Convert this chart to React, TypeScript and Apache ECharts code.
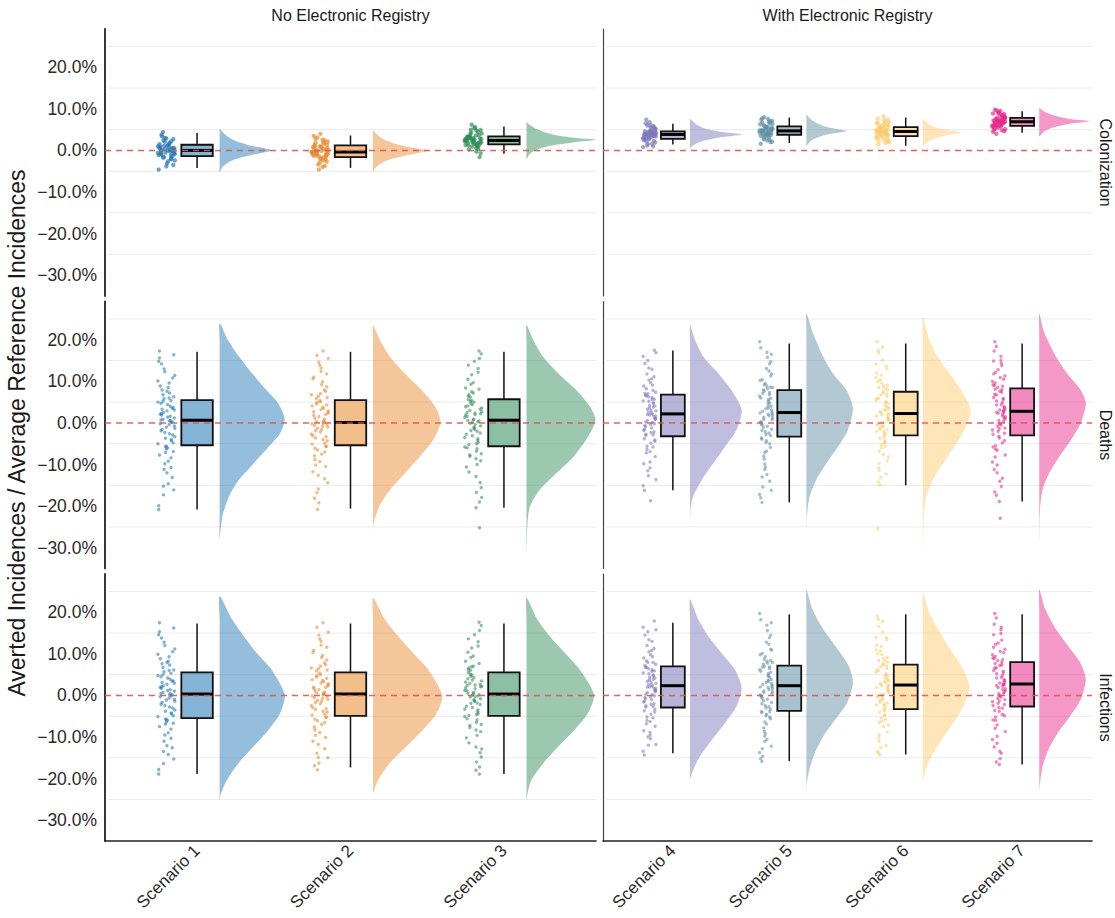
import React, { useEffect, useRef } from "react";
import * as echarts from "echarts";

// ---------- labels ----------
const SCENARIOS = ["Scenario 1", "Scenario 2", "Scenario 3", "Scenario 4", "Scenario 5", "Scenario 6", "Scenario 7"];
const COLUMN_TITLES = ["No Electronic Registry", "With Electronic Registry"];
const OUTCOMES = ["Colonization", "Deaths", "Infections"];
const Y_TITLE = "Averted Incidences / Average Reference Incidences";
const Y_TICKS = [-30, -20, -10, 0, 10, 20];
const MINOR_GRID = [-25, -15, -5, 5, 15, 25];
const SCENARIO_COLORS = ["#1F77B4", "#E8882A", "#2E8B57", "#7B77B9", "#5E8FA5", "#FCCB6A", "#E7298A"];

// ---------- raw points (percent) ----------
const colonizationPoints = [
  [0.3, -1.2, 2.1, -0.4, 1.0, -2.6, 0.6, 3.4, -0.9, 1.5, -3.8, 0.1, -1.6, 2.7, -0.2, 0.8, -4.6, 1.2, -2.1, 4.4, -0.7, 0.4, -1.0, 1.8, -3.1, 2.4, -0.1, 0.9, -1.9, 3.0,
    0.5, -0.6, 1.3, -1.4, 0.2, -2.4, 0.7, 2.9, -0.3, 1.1, -3.5, -0.8, 1.6, -1.1, 0.0, 2.2, -1.7, 0.4, -0.5, 3.8],
  [-0.1, -1.5, 1.8, -0.7, 0.8, -2.9, 0.3, 3.1, -1.1, 1.3, -4.0, -0.3, -1.9, 2.4, -0.5, 0.6, -4.6, 1.0, -2.4, 4.0, -0.9, 0.1, -1.3, 1.6, -3.4, 2.1, -0.4, 0.7, -2.1, 2.8,
    0.1, -0.9, 1.0, -1.7, -0.2, -2.7, 0.4, 2.6, -0.6, 0.9, -3.7, -1.2, 1.4, -1.4, -0.3, 1.9, -2.0, 0.0, -0.8, 3.5],
  [2.6, 1.5, 4.3, 2.1, 3.1, 0.6, 2.8, 5.4, 1.8, 3.4, -0.7, 2.4, 1.2, 4.8, 2.2, 2.9, -1.6, 3.3, 0.9, 6.2, 1.9, 2.5, 1.6, 3.7, 0.2, 4.1, 2.3, 3.0, 1.1, 5.0,
    2.9, 1.8, 3.6, 1.3, 2.6, 0.4, 3.1, 4.9, 2.0, 3.3, -0.3, 1.6, 3.9, 1.4, 2.4, 4.5, 0.9, 2.7, 2.2, 5.6],
  [4.0, 3.0, 5.5, 3.6, 4.4, 1.9, 4.1, 6.5, 3.3, 4.7, 1.2, 3.9, 2.7, 5.9, 3.7, 4.3, 0.8, 4.6, 2.3, 7.4, 3.4, 3.9, 3.1, 5.1, 1.6, 5.3, 3.8, 4.5, 2.5, 6.1,
    4.2, 3.2, 4.9, 2.7, 4.0, 1.6, 4.4, 6.0, 3.5, 4.6, 1.0, 3.0, 5.2, 2.9, 3.8, 5.6, 2.2, 4.1, 3.6, 6.8],
  [4.9, 3.9, 6.7, 4.4, 5.4, 2.7, 5.1, 7.4, 4.1, 5.8, 2.1, 4.8, 3.6, 7.0, 4.6, 5.2, 1.6, 5.6, 3.2, 8.0, 4.2, 4.8, 3.9, 6.3, 2.4, 6.5, 4.7, 5.5, 3.4, 7.7,
    5.0, 4.0, 6.0, 3.7, 4.8, 2.6, 5.3, 7.1, 4.3, 5.7, 2.0, 3.8, 6.4, 3.5, 4.6, 6.9, 3.0, 5.1, 4.5, 7.6],
  [4.7, 3.6, 6.5, 4.2, 5.3, 2.4, 4.9, 7.3, 3.9, 5.7, 1.9, 4.6, 3.3, 6.9, 4.4, 5.0, 1.4, 5.5, 2.9, 8.2, 4.0, 4.6, 3.7, 6.1, 2.2, 6.3, 4.5, 5.4, 3.1, 7.6,
    4.8, 3.8, 5.8, 3.4, 4.5, 2.3, 5.1, 6.8, 4.1, 5.5, 1.8, 3.5, 6.2, 3.2, 4.3, 6.6, 2.7, 4.9, 4.2, 7.4],
  [7.0, 6.0, 8.6, 6.6, 7.5, 5.1, 7.2, 9.2, 6.3, 7.9, 4.6, 6.9, 5.8, 8.9, 6.8, 7.4, 4.0, 7.8, 5.5, 9.8, 6.4, 7.0, 6.1, 8.2, 5.0, 8.4, 6.9, 7.7, 5.7, 9.5,
    7.2, 6.2, 8.0, 5.9, 7.0, 4.9, 7.4, 8.8, 6.5, 7.7, 4.5, 6.0, 8.4, 5.8, 6.8, 9.0, 5.3, 7.3, 6.7, 9.6],
];
const deathsPoints = [
  [2.1, -8.4, 12.3, -0.7, 5.0, -14.6, 0.3, 7.9, -3.3, 17.3, -5.6, 1.6, -11.2, 3.7, -1.9, 9.6, -20.8, 4.4, -4.0, 0.9, 6.3, -7.1, 14.2, -2.6, 2.9, -17.3, 10.8, -0.2, 5.4, -9.8, 1.2, -5.0, 8.5, -13.1, 3.3, -1.3, 15.6, -6.3, 0.6, 5.8,
    -4.8, 0.7, 6.0, -19.9, 1.4, -4.3, 6.8, -16.1, -3.7, 1.9, 7.2, -12.0, 2.5, -2.9, 8.9, -10.7, -2.3, 3.1, 10.1, -9.2, 3.5, -1.6, 11.4, -7.7, -1.0, 4.0, 13.0, -6.9, 4.7, -0.4, 14.8, -6.0, 0.1, 5.2, 16.4, -5.7, 2.3, 0.5, 7.6, -15.2],
  [-1.6, 7.6, -10.1, 2.6, -3.0, 13.9, 0.4, -6.5, 4.3, -18.1, 9.9, -0.2, 3.2, -13.4, 5.9, -4.3, 1.5, -8.8, 17.3, -2.2, 4.9, -5.7, 11.0, 0.9, -15.9, -1.0, 6.8, -7.5, 2.0, -3.6, 15.5, -11.7, 5.4, 0.1, -20.8, 8.7, -0.6, 3.8, -5.1, 12.4,
    -4.9, 0.3, 6.1, -19.2, 1.1, -4.0, 7.0, -16.8, -3.3, 1.8, 7.9, -12.6, 2.3, -2.7, 9.2, -10.5, -1.9, 2.9, 10.6, -9.3, 3.5, -1.3, 11.8, -7.9, -0.8, 4.1, 13.2, -7.0, 4.6, -0.4, 14.6, -6.1, -0.1, 5.1, 16.2, -5.6, 2.7, 0.2, 6.4, -14.4],
  [0.8, -6.2, 9.3, -2.4, 4.1, -12.9, 1.9, 14.8, -4.7, 3.0, -9.1, 0.2, 6.4, -16.7, -1.1, 5.2, -25.2, 2.5, -3.8, 11.6, -7.4, 1.3, -0.4, 17.3, -5.2, 3.6, -10.6, 7.2, -2.0, 4.7, -14.3, 0.6, -20.4, 8.4, -1.5, 13.1, -8.0, 2.2, -3.1, 5.6,
    -5.0, 0.9, 6.2, -19.0, 1.6, -4.2, 7.5, -15.6, -3.5, 2.0, 8.1, -11.8, 2.7, -2.7, 9.7, -10.0, -1.8, 3.3, 10.5, -8.6, 3.9, -1.2, 12.2, -7.7, -0.7, 4.4, 13.9, -6.8, 5.0, -0.1, 15.5, -6.0, 0.3, 5.4, 16.6, -5.8, 2.4, 0.5, 6.8, -17.9],
  [2.4, -1.8, 9.7, 4.9, -5.6, 0.8, 13.2, -3.0, 6.1, -9.4, 3.3, 17.5, -0.6, 7.8, -12.7, 1.6, 5.3, -2.3, 11.1, -7.2, 2.9, -16.2, 4.2, 0.1, 15.0, -4.4, 6.6, -1.2, 8.9, -18.7, 3.8, -6.4, 1.1, 10.3, -2.7, 5.7, -10.8, 2.0, -0.2, 7.1,
    -2.9, 2.5, 7.4, -15.1, 3.0, -2.2, 8.2, -13.6, -1.6, 3.6, 9.1, -11.5, 4.1, -0.9, 10.6, -9.8, -0.4, 4.6, 11.8, -8.1, 5.2, 0.2, 12.9, -6.9, 0.6, 5.7, 14.3, -5.8, 6.3, 1.0, 16.0, -4.9, 1.5, 6.6, 16.9, -3.8, 1.9, 2.1, 7.0, -4.1],
  [3.1, -2.1, 10.4, 5.6, -6.8, 0.9, 14.7, -3.6, 7.3, -11.2, 2.6, 19.5, -0.8, 8.6, -15.4, 1.8, 6.0, -2.8, 12.5, -8.7, 4.0, -19.1, 4.7, 0.2, 17.0, -5.0, 7.9, -1.5, 9.5, -13.0, 3.6, -4.3, 1.3, 11.3, -0.3, 6.8, -9.9, 2.2, -17.2, 8.2,
    -3.0, 2.8, 8.5, -18.0, 3.4, -2.4, 9.2, -16.2, -1.8, 4.1, 10.2, -12.4, 4.8, -1.1, 11.8, -10.6, -0.5, 5.3, 13.1, -8.0, 5.9, 0.3, 14.2, -7.1, 0.8, 6.4, 15.8, -5.9, 7.1, 1.2, 18.1, -4.7, 1.7, 7.6, 16.5, -3.9, 2.1, 2.4, 8.9, -14.0],
  [2.7, -1.6, 9.9, 5.1, -6.0, 0.6, 14.1, -3.3, 7.0, -9.7, 3.4, 19.5, -0.7, 8.3, -13.2, 1.7, 5.8, -2.4, 12.0, -7.6, 3.9, -15.0, 4.6, 0.0, 16.8, -4.6, 7.5, -1.1, 9.1, -25.4, 3.0, -5.3, 1.2, 10.9, -2.0, 6.4, -11.4, 2.2, -0.3, 18.2,
    -2.8, 2.6, 8.0, -14.2, 3.2, -2.1, 8.8, -12.3, -1.5, 3.8, 9.6, -10.8, 4.4, -0.9, 10.4, -9.1, -0.4, 5.0, 11.5, -8.2, 5.5, 0.2, 13.0, -6.8, 0.7, 6.0, 15.1, -5.7, 6.7, 1.1, 17.4, -4.9, 1.6, 7.2, 13.7, -3.7, 1.9, 2.0, 8.5, -4.2],
  [3.3, -1.7, 10.9, 5.9, -6.3, 1.0, 14.9, -3.2, 8.0, -10.1, 3.9, 19.5, -0.5, 9.2, -14.0, 2.1, 6.7, -2.5, 12.8, -8.2, 4.4, -18.9, 5.3, 0.4, 17.3, -4.8, 8.6, -1.2, 10.0, -22.9, 2.8, -5.5, 1.5, 11.8, -0.1, 7.4, -12.0, 2.5, -16.6, 16.0,
    -2.7, 3.1, 8.8, -17.4, 3.7, -2.0, 9.6, -15.3, -1.4, 4.3, 10.5, -11.2, 4.9, -0.8, 11.3, -9.4, -0.2, 5.6, 12.2, -7.7, 6.1, 0.6, 13.8, -6.6, 1.2, 6.9, 15.1, -5.8, 7.6, 1.7, 18.4, -4.3, 2.3, 8.1, 14.4, -3.6, 2.6, 3.0, 9.0, -13.3],
];
const infectionsPoints = [
  [1.9, -8.1, 12.0, -0.9, 4.8, -14.2, 0.2, 7.6, -3.5, 17.5, -5.8, 1.4, -11.0, 3.5, -2.1, 9.3, -18.9, 4.2, -4.2, 0.7, 6.1, -6.9, 13.8, -2.8, 2.7, -16.4, 10.5, -0.3, 5.3, -9.5, 1.0, -5.1, 8.2, -12.6, 3.1, -1.4, 15.3, -6.4, 0.5, 5.7,
    -4.9, 0.5, 6.0, -17.8, 1.2, -4.4, 6.7, -15.3, -3.8, 1.7, 7.3, -12.1, 2.3, -3.0, 8.8, -10.3, -2.4, 2.9, 9.9, -9.0, 3.4, -1.7, 11.2, -7.5, -1.1, 3.9, 12.8, -6.7, 4.5, -0.6, 14.6, -6.0, -0.1, 5.0, 16.2, -5.7, 2.1, 0.1, 7.9, -13.5],
  [-1.4, 7.4, -9.6, 2.5, -2.9, 13.6, 0.5, -6.1, 4.1, -16.9, 9.6, -0.1, 3.0, -12.8, 5.9, -4.0, 1.4, -8.3, 17.5, -2.0, 4.8, -5.3, 10.8, 0.8, -14.9, -0.9, 6.6, -7.0, 1.9, -3.4, 15.2, -11.0, 5.4, 0.3, -17.9, 8.5, -0.5, 3.6, -4.7, 12.1,
    -4.5, 0.6, 6.1, -16.3, 1.2, -3.8, 7.0, -13.9, -3.2, 1.7, 7.8, -11.8, 2.3, -2.5, 9.1, -10.1, -1.7, 2.8, 10.3, -8.9, 3.3, -1.2, 11.6, -7.6, -0.7, 3.8, 13.0, -6.5, 4.4, -0.2, 14.5, -5.7, 0.1, 5.0, 16.4, -5.2, 2.0, 0.4, 6.4, -15.0],
  [0.7, -5.9, 9.1, -2.2, 4.0, -12.4, 1.8, 14.6, -4.4, 2.9, -8.7, 0.1, 6.3, -16.0, -1.0, 5.1, -18.9, 2.4, -3.5, 11.4, -7.0, 1.2, -0.3, 17.6, -4.8, 3.5, -10.2, 7.0, -1.8, 4.6, -13.8, 0.5, -18.0, 8.2, -1.3, 12.9, -7.7, 2.1, -2.9, 5.5,
    -4.6, 0.5, 6.0, -17.2, 1.1, -3.9, 6.9, -14.8, -3.3, 1.6, 7.7, -11.4, 2.2, -2.6, 9.5, -9.6, -1.9, 2.7, 10.4, -8.3, 3.2, -1.4, 11.9, -7.2, -0.8, 3.7, 13.6, -6.5, 4.3, -0.4, 15.6, -5.6, -0.1, 4.9, 16.8, -5.1, 2.5, 0.2, 6.6, -12.9],
  [2.5, -1.6, 9.8, 4.9, -5.2, 0.9, 13.4, -2.8, 6.2, -8.9, 3.4, 17.9, -0.5, 7.9, -12.0, 1.7, 5.4, -2.1, 11.3, -6.8, 2.9, -14.3, 4.3, 0.2, 15.3, -4.0, 6.8, -1.0, 9.0, -10.4, 3.9, -6.0, 1.2, 10.5, -2.5, 5.8, -9.6, 2.0, -0.1, 7.2,
    -2.6, 2.6, 7.5, -13.4, 3.1, -2.0, 8.3, -11.8, -1.4, 3.7, 9.3, -10.0, 4.2, -0.8, 10.8, -8.5, -0.3, 4.7, 12.0, -7.4, 5.2, 0.3, 13.0, -6.3, 0.7, 5.9, 14.5, -5.4, 6.4, 1.2, 16.4, -4.5, 1.6, 6.8, 15.8, -3.7, 2.0, 2.2, 8.0, -3.3],
  [2.9, -2.4, 10.1, 5.3, -6.9, 0.7, 14.5, -3.9, 6.9, -11.0, 2.4, 19.7, -0.9, 8.4, -14.6, 1.6, 5.8, -3.0, 12.3, -8.6, 3.8, -15.9, 4.6, 0.1, 16.9, -5.2, 7.5, -1.7, 9.3, -12.8, 3.4, -4.5, 1.1, 11.1, -0.4, 6.5, -9.8, 2.1, -13.7, 7.8,
    -3.3, 2.6, 7.9, -15.2, 3.1, -2.7, 8.7, -12.2, -2.0, 3.6, 9.8, -10.6, 4.3, -1.3, 10.9, -9.2, -0.7, 4.9, 12.8, -7.8, 5.6, -0.1, 13.9, -6.4, 0.4, 6.2, 15.6, -5.6, 6.8, 0.9, 18.2, -4.9, 1.4, 7.0, 17.5, -4.1, 1.9, 2.0, 8.2, -3.9],
  [2.8, -1.8, 10.0, 5.2, -6.2, 0.8, 14.0, -3.4, 7.1, -9.5, 3.5, 19.1, -0.6, 8.4, -12.6, 1.8, 5.9, -2.5, 12.1, -7.5, 4.0, -14.3, 4.7, 0.1, 16.6, -4.7, 7.6, -1.2, 9.2, -13.5, 3.1, -5.4, 1.3, 11.0, -2.1, 6.5, -11.0, 2.4, -0.2, 17.8,
    -3.0, 2.7, 8.0, -13.9, 3.3, -2.3, 8.9, -12.1, -1.6, 3.9, 9.8, -10.2, 4.5, -1.0, 10.7, -8.8, -0.4, 5.0, 11.8, -7.1, 5.6, 0.3, 13.4, -6.5, 0.8, 6.2, 15.2, -5.8, 6.9, 1.4, 18.3, -4.8, 1.9, 7.3, 13.9, -4.0, 2.2, 2.3, 8.4, -3.7],
  [3.2, -1.5, 10.6, 5.8, -6.0, 1.1, 14.6, -2.9, 7.9, -9.8, 3.8, 19.7, -0.4, 9.0, -13.4, 2.2, 6.6, -2.2, 12.6, -7.9, 4.3, -16.6, 5.2, 0.5, 17.1, -4.6, 8.4, -1.0, 9.8, -15.2, 2.8, -5.2, 1.6, 11.6, 0.0, 7.3, -11.5, 2.6, -3.6, 15.8,
    -2.4, 3.0, 8.6, -16.0, 3.6, -1.9, 9.4, -13.9, -1.3, 4.2, 10.3, -12.4, 4.8, -0.7, 11.1, -10.6, -0.1, 5.4, 12.3, -8.7, 6.0, 0.4, 13.3, -7.1, 0.9, 6.6, 14.9, -5.9, 7.2, 1.4, 18.6, -4.9, 1.9, 7.7, 16.4, -3.8, 2.4, 2.6, 8.9, -3.1],
];

// ---------- box stats [lower whisker, q1, median, q3, upper whisker] ----------
const colonizationBox = [
  [-4.2, -1.37, 0, 1.37, 4.2],
  [-4.2, -1.6, -0.4, 1.2, 3.6],
  [-0.8, 1.44, 2.4, 3.37, 5.77],
  [1.4, 2.8, 3.85, 4.57, 6.4],
  [1.8, 3.77, 4.7, 5.77, 7.9],
  [1.1, 3.45, 4.56, 5.6, 7.9],
  [4.25, 5.93, 6.9, 7.85, 9.45],
];
const deathsBox = [
  [-20.8, -5.37, 0.65, 5.47, 17.1],
  [-20.6, -5.37, 0.1, 5.47, 17.1],
  [-20.4, -5.6, 0.65, 5.7, 17.1],
  [-16.2, -3.2, 2.17, 6.8, 17.4],
  [-19.1, -3.3, 2.5, 7.9, 19.1],
  [-15.0, -3.0, 2.26, 7.5, 19.1],
  [-18.9, -3.0, 2.8, 8.3, 19.1],
];
const infectionsBox = [
  [-18.9, -5.46, 0.33, 5.55, 17.3],
  [-17.3, -4.9, 0.33, 5.55, 17.3],
  [-18.9, -4.9, 0.33, 5.55, 17.3],
  [-13.9, -2.9, 2.34, 7.0, 17.5],
  [-15.8, -3.7, 2.34, 7.17, 19.5],
  [-14.2, -3.3, 2.5, 7.4, 19.5],
  [-16.6, -2.66, 2.75, 8.0, 19.5],
];

// ---------- half-violin densities: [value, relative density] ----------
const colonizationDensity = [
  [[5.2, 0], [4.4, 0.06], [3.6, 0.13], [2.8, 0.22], [2.0, 0.36], [1.2, 0.58], [0.5, 0.86], [0, 1], [-0.6, 0.8], [-1.4, 0.5], [-2.2, 0.28], [-3.0, 0.15], [-3.9, 0.06], [-5.2, 0]],
  [[4.8, 0], [4.0, 0.06], [3.2, 0.13], [2.4, 0.24], [1.6, 0.4], [0.9, 0.62], [0.3, 0.88], [0, 1], [-0.6, 0.82], [-1.4, 0.52], [-2.2, 0.3], [-3.0, 0.16], [-3.9, 0.06], [-5.2, 0]],
  [[6.8, 0], [6.0, 0.06], [5.2, 0.14], [4.4, 0.26], [3.6, 0.45], [3.0, 0.72], [2.6, 1], [2.1, 0.75], [1.4, 0.45], [0.7, 0.24], [0, 0.12], [-0.8, 0.05], [-2.0, 0]],
  [[7.6, 0], [6.8, 0.07], [6.0, 0.16], [5.2, 0.3], [4.5, 0.58], [3.85, 1], [3.2, 0.6], [2.5, 0.32], [1.8, 0.15], [1.1, 0.05], [0.55, 0]],
  [[8.65, 0], [7.8, 0.08], [7.0, 0.18], [6.2, 0.34], [5.4, 0.62], [4.7, 1], [4.0, 0.62], [3.2, 0.3], [2.4, 0.12], [1.2, 0]],
  [[7.6, 0], [6.9, 0.08], [6.2, 0.18], [5.5, 0.35], [4.9, 0.62], [4.3, 1], [3.6, 0.6], [2.8, 0.3], [2.0, 0.12], [1.0, 0]],
  [[10.2, 0], [9.5, 0.08], [8.8, 0.2], [8.1, 0.38], [7.5, 0.65], [7.0, 1], [6.4, 0.62], [5.6, 0.3], [4.8, 0.12], [3.4, 0]],
];
const deathsDensity = [
  [[24, 0], [19.9, 0.13], [15.9, 0.3], [11.9, 0.5], [7.9, 0.72], [4.7, 0.9], [1.0, 1], [-2.5, 0.93], [-5.8, 0.75], [-9.8, 0.52], [-13.8, 0.29], [-17.8, 0.14], [-22.6, 0.04], [-27.9, 0]],
  [[23.5, 0], [20, 0.1], [15.9, 0.25], [11.9, 0.47], [7.9, 0.72], [3.9, 0.92], [0.3, 1], [-4.1, 0.89], [-8.1, 0.69], [-12.1, 0.47], [-16.1, 0.25], [-20.1, 0.09], [-24.1, 0.01], [-25.9, 0]],
  [[23.5, 0], [19.9, 0.1], [15.9, 0.24], [11.9, 0.46], [7.9, 0.72], [3.9, 0.92], [0.7, 1], [-3.3, 0.89], [-8.1, 0.68], [-12.1, 0.43], [-16.1, 0.19], [-20.1, 0.05], [-24.1, 0.015], [-31.4, 0]],
  [[23.5, 0], [19.9, 0.1], [15.9, 0.26], [11.9, 0.55], [7.9, 0.8], [3.1, 1], [-1.7, 0.9], [-5.7, 0.68], [-9.7, 0.45], [-13.7, 0.23], [-17.7, 0.06], [-20.9, 0.01], [-24.6, 0]],
  [[26.3, 0], [21.9, 0.13], [15.9, 0.36], [11.9, 0.57], [7.9, 0.86], [3.5, 1], [-1.7, 0.89], [-5.7, 0.68], [-9.7, 0.43], [-13.7, 0.21], [-17.7, 0.07], [-22.5, 0.01], [-25.8, 0]],
  [[25.5, 0], [19.9, 0.14], [15.9, 0.31], [11.9, 0.56], [7.9, 0.8], [3.1, 1], [-1.7, 0.87], [-5.7, 0.66], [-9.7, 0.42], [-13.7, 0.21], [-17.7, 0.07], [-24.1, 0.015], [-32.2, 0]],
  [[26.3, 0], [21.9, 0.1], [15.9, 0.36], [11.9, 0.6], [7.9, 0.89], [4.7, 1], [-0.1, 0.89], [-4.1, 0.68], [-8.1, 0.43], [-12.1, 0.21], [-16.1, 0.07], [-20.9, 0.015], [-29.9, 0]],
];
const infectionsDensity = [
  [[23.9, 0], [18.3, 0.19], [14.3, 0.37], [10.2, 0.57], [6.2, 0.8], [0.2, 1], [-4.3, 0.93], [-8.3, 0.75], [-12.3, 0.52], [-16.3, 0.29], [-20.4, 0.11], [-23.6, 0.02], [-25.2, 0]],
  [[23.5, 0], [18.3, 0.17], [14.3, 0.36], [10.2, 0.58], [6.2, 0.8], [0, 1], [-4.3, 0.92], [-8.3, 0.72], [-12.3, 0.48], [-16.3, 0.24], [-20.4, 0.07], [-22.8, 0.015], [-23.6, 0]],
  [[23.5, 0], [18.3, 0.16], [14.3, 0.34], [10.2, 0.57], [6.2, 0.79], [0.2, 1], [-4.3, 0.91], [-8.3, 0.71], [-12.3, 0.47], [-16.3, 0.25], [-20.4, 0.07], [-23.6, 0.015], [-25.2, 0]],
  [[23.1, 0], [18.3, 0.16], [14.3, 0.35], [10.2, 0.61], [6.2, 0.87], [1.8, 1], [-2.6, 0.9], [-6.6, 0.68], [-10.7, 0.42], [-14.7, 0.19], [-17.9, 0.06], [-20, 0]],
  [[25.5, 0], [20.7, 0.13], [15.9, 0.36], [11.9, 0.62], [7.1, 0.91], [3.0, 1], [-1.8, 0.87], [-5.8, 0.62], [-9.9, 0.36], [-13.9, 0.18], [-17.9, 0.06], [-21.1, 0.01], [-22.4, 0]],
  [[24.7, 0], [19.9, 0.14], [15.9, 0.33], [11.9, 0.54], [7.1, 0.83], [2.2, 1], [-2.6, 0.87], [-6.6, 0.65], [-10.7, 0.4], [-14.7, 0.18], [-17.9, 0.06], [-20.8, 0]],
  [[25.5, 0], [20.7, 0.13], [15.9, 0.36], [11.9, 0.62], [7.9, 0.88], [3.8, 1], [-1.0, 0.89], [-5.0, 0.66], [-9.0, 0.4], [-13.0, 0.2], [-17.1, 0.07], [-21.1, 0.015], [-22.8, 0]],
];
// peak half-violin width (in category units)
const colonizationPeak = [0.34, 0.36, 0.45, 0.444, 0.34, 0.33, 0.43];
const deathsPeak = [0.424, 0.44, 0.45, 0.444, 0.4, 0.41, 0.4];
const infectionsPeak = [0.424, 0.45, 0.44, 0.444, 0.4, 0.4, 0.4];

// ---------- layout (not data) ----------
const JITTER = [-0.04, 0.03, -0.01, 0.052, -0.055, 0.012, 0.038, -0.028, 0.055, -0.045, 0.0, 0.025, -0.015, 0.045, -0.035, 0.018, -0.05, 0.008, 0.032, -0.022, 0.048, -0.006, -0.032, 0.021, 0.004, -0.019, 0.041];
const FONT = "'Liberation Sans', Arial, Helvetica, sans-serif";
const GRID_LEFT = [105, 603];
const GRID_WIDTH = [491, 489];
const ROW_TOP = [29, 301.5, 574];
const ROW_H = 267;
const Y_MIN = -35;
const Y_MAX = 29.2;

const rgba = (hex: string, a: number) => {
  const n = parseInt(hex.slice(1), 16);
  return `rgba(${(n >> 16) & 255},${(n >> 8) & 255},${n & 255},${a})`;
};
const fmtPct = (v: number) => (v < 0 ? "\u2212" : "") + Math.abs(v).toFixed(1) + "%";

const ROWS = [
  { pts: colonizationPoints, box: colonizationBox, dens: colonizationDensity, peak: colonizationPeak, size: 4.4, alpha: 0.85 },
  { pts: deathsPoints, box: deathsBox, dens: deathsDensity, peak: deathsPeak, size: 3.4, alpha: 0.7 },
  { pts: infectionsPoints, box: infectionsBox, dens: infectionsDensity, peak: infectionsPeak, size: 3.4, alpha: 0.7 },
];

function buildOption() {
  const grid: any[] = [];
  const xAxis: any[] = [];
  const yAxis: any[] = [];
  const series: any[] = [];

  for (let r = 0; r < 3; r++) {
    for (let c = 0; c < 2; c++) {
      const gi = r * 2 + c;
      const ks = c === 0 ? [0, 1, 2] : [3, 4, 5, 6];
      const xMax = c === 0 ? 3.6 : 4.6;
      const row = ROWS[r];
      grid.push({ left: GRID_LEFT[c], top: ROW_TOP[r], width: GRID_WIDTH[c], height: ROW_H });
      xAxis.push({
        type: "value", gridIndex: gi, min: 0.4, max: xMax, position: "bottom",
        axisLine: { show: r === 2, onZero: false, lineStyle: { color: "#222", width: 1.6 } },
        axisTick: { show: false }, splitLine: { show: false },
        axisLabel: {
          show: r === 2, customValues: ks.map((_, j) => j + 1),
          formatter: (v: number) => SCENARIOS[ks[Math.round(v) - 1]] || "",
          rotate: 45, fontSize: 17, color: "#2a2a2a", margin: 7, fontFamily: FONT,
        },
      });
      yAxis.push({
        type: "value", gridIndex: gi, min: Y_MIN, max: Y_MAX, position: "left",
        axisLine: { show: true, onZero: false, lineStyle: { color: c === 0 ? "#222" : "#444", width: c === 0 ? 1.8 : 1.2 } },
        axisTick: { show: false }, splitLine: { show: false },
        axisLabel: {
          show: c === 0, customValues: Y_TICKS, formatter: (v: number) => fmtPct(v),
          fontSize: 17.5, color: "#2a2a2a", margin: 8, fontFamily: FONT,
        },
      });

      // background minor grid lines
      series.push({
        type: "custom", xAxisIndex: gi, yAxisIndex: gi, z: 1, silent: true, data: [[1, 0]],
        renderItem: (_p: any, api: any) => ({
          type: "group",
          children: MINOR_GRID.map((y) => {
            const a = api.coord([0.4, y]);
            const b = api.coord([xMax, y]);
            return { type: "line", shape: { x1: a[0] + 3, y1: a[1], x2: b[0], y2: b[1] }, style: { stroke: "#EBEBEB", lineWidth: 1 } };
          }),
        }),
      });

      // violins + boxes
      series.push({
        type: "custom", xAxisIndex: gi, yAxisIndex: gi, z: 2, silent: true,
        data: ks.map((k, j) => [j + 1, 0, k]),
        renderItem: (_p: any, api: any) => {
          const pos = api.value(0);
          const k = api.value(2);
          const color = SCENARIO_COLORS[k];
          const dens = row.dens[k];
          const peak = row.peak[k];
          const start = pos + 0.147;
          const rightEdge = dens.map(([y, w]: number[]) => api.coord([start + w * peak, y]));
          const leftEdge = dens.slice(1, -1).reverse().map(([y]: number[]) => api.coord([start, y]));
          const [lo, q1, med, q3, hi] = row.box[k];
          const bw = 0.1025;
          const tl = api.coord([pos - bw, q3]);
          const br = api.coord([pos + bw, q1]);
          const pMed1 = api.coord([pos - bw, med]);
          const pMed2 = api.coord([pos + bw, med]);
          const pHi = api.coord([pos, hi]);
          const pLo = api.coord([pos, lo]);
          const cx = api.coord([pos, 0])[0];
          return {
            type: "group",
            children: [
              { type: "polygon", shape: { points: rightEdge.concat(leftEdge), smooth: 0.25 }, style: { fill: rgba(color, 0.48), stroke: null } },
              { type: "line", shape: { x1: cx, y1: pHi[1], x2: cx, y2: tl[1] }, style: { stroke: "#111", lineWidth: 1.5 } },
              { type: "line", shape: { x1: cx, y1: br[1], x2: cx, y2: pLo[1] }, style: { stroke: "#111", lineWidth: 1.5 } },
              { type: "rect", shape: { x: tl[0], y: tl[1], width: br[0] - tl[0], height: br[1] - tl[1] }, style: { fill: rgba(color, 0.55), stroke: "#111", lineWidth: 1.8 } },
              { type: "line", shape: { x1: pMed1[0], y1: pMed1[1], x2: pMed2[0], y2: pMed2[1] }, style: { stroke: "#000", lineWidth: 3 } },
            ],
          };
        },
      });

      // jittered raw points
      ks.forEach((k, j) => {
        const vals = row.pts[k];
        series.push({
          type: "scatter", xAxisIndex: gi, yAxisIndex: gi, z: 3, silent: true,
          symbol: "circle", symbolSize: row.size,
          itemStyle: { color: rgba(SCENARIO_COLORS[k], row.alpha) },
          data: vals.map((v, i) => [j + 1 - 0.2 + JITTER[(i + k * 5) % JITTER.length], v]),
        });
      });

      // zero reference line
      series.push({
        type: "custom", xAxisIndex: gi, yAxisIndex: gi, z: 4, silent: true, data: [[1, 0]],
        renderItem: (_p: any, api: any) => {
          const a = api.coord([0.4, 0]);
          const b = api.coord([xMax, 0]);
          return { type: "line", shape: { x1: a[0], y1: a[1], x2: b[0], y2: b[1] }, style: { stroke: "rgba(235,80,80,0.9)", lineWidth: 1.5, lineDash: [6, 5] } };
        },
      });
    }
  }

  const graphic: any[] = [
    { type: "text", x: 17, y: 433, rotation: Math.PI / 2, style: { text: Y_TITLE, x: 0, y: 0, align: "center", verticalAlign: "middle", fontSize: 23, fill: "#1a1a1a", fontFamily: FONT } },
    { type: "text", x: GRID_LEFT[0] + GRID_WIDTH[0] / 2, y: 15, style: { text: COLUMN_TITLES[0], x: 0, y: 0, align: "center", verticalAlign: "middle", fontSize: 16, fill: "#1a1a1a", fontFamily: FONT } },
    { type: "text", x: GRID_LEFT[1] + GRID_WIDTH[1] / 2, y: 15, style: { text: COLUMN_TITLES[1], x: 0, y: 0, align: "center", verticalAlign: "middle", fontSize: 16, fill: "#1a1a1a", fontFamily: FONT } },
  ];
  OUTCOMES.forEach((t, r) => {
    graphic.push({ type: "text", x: 1105, y: ROW_TOP[r] + ROW_H / 2, rotation: -Math.PI / 2, style: { text: t, x: 0, y: 0, align: "center", verticalAlign: "middle", fontSize: 16, fill: "#1a1a1a", fontFamily: FONT } });
  });

  return {
    animation: false,
    backgroundColor: "#ffffff",
    textStyle: { fontFamily: FONT },
    grid, xAxis, yAxis, series, graphic,
  };
}

export default function App() {
  const ref = useRef<HTMLDivElement>(null);
  useEffect(() => {
    if (!ref.current) return;
    const chart = echarts.init(ref.current, undefined, { renderer: "svg" });
    chart.setOption(buildOption() as any);
    return () => chart.dispose();
  }, []);
  return <div ref={ref} style={{ position: "fixed", left: 0, top: 0, width: 1115, height: 918, background: "#fff" }} />;
}
